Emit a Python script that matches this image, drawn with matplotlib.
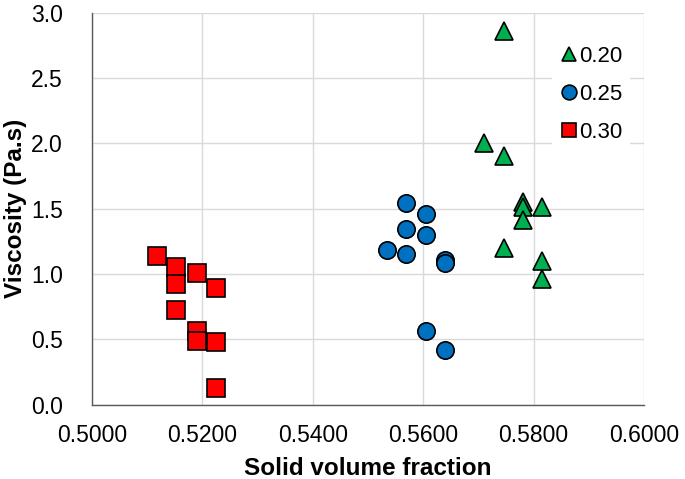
import matplotlib.pyplot as plt
import numpy as np

plt.rcParams['font.family'] = ['Liberation Sans', 'DejaVu Sans']

# volume fraction / viscosity readings per series
x_020 = [0.5746, 0.5710, 0.5746, 0.5781, 0.5781, 0.5815, 0.5781, 0.5746, 0.5815, 0.5815]
y_020 = [2.86, 2.00, 1.90, 1.55, 1.51, 1.51, 1.41, 1.20, 1.10, 0.96]

x_025 = [0.5568, 0.5605, 0.5568, 0.5605, 0.5534, 0.5568, 0.5640, 0.5640, 0.5605, 0.5640]
y_025 = [1.54, 1.46, 1.34, 1.30, 1.18, 1.15, 1.11, 1.08, 0.56, 0.42]

x_030 = [0.5117, 0.5153, 0.5153, 0.5190, 0.5225, 0.5153, 0.5190, 0.5190, 0.5225, 0.5225]
y_030 = [1.14, 1.05, 0.92, 1.01, 0.89, 0.72, 0.56, 0.49, 0.48, 0.13]

labels = ["0.20", "0.25", "0.30"]

fig = plt.figure(figsize=(6.85, 4.79), dpi=100)
ax = fig.add_axes([92 / 685, 1 - 404.5 / 479, 552 / 685, 391.8 / 479])

ms = 12.5
ax.plot(x_020, y_020, ls="none", marker="^", ms=ms, mfc="#00B050", mec="black", mew=1.2,
        label=labels[0], zorder=3)
ax.plot(x_025, y_025, ls="none", marker="o", ms=ms, mfc="#0070C0", mec="black", mew=1.2,
        label=labels[1], zorder=3)
ax.plot(x_030, y_030, ls="none", marker="s", ms=ms, mfc="#FF0000", mec="black", mew=1.2,
        label=labels[2], zorder=3)

ax.set_xlim(0.5, 0.6)
ax.set_ylim(0, 3.0)
ax.set_xticks(np.arange(0.50, 0.6001, 0.02))
ax.set_yticks(np.arange(0, 3.01, 0.5))
ax.xaxis.set_major_formatter(plt.FormatStrFormatter("%.4f"))
ax.yaxis.set_major_formatter(plt.FormatStrFormatter("%.1f"))
ax.tick_params(length=0, labelsize=16.5, colors="#000000")
ax.tick_params(axis="y", pad=21)
ax.tick_params(axis="x", pad=14)

ax.grid(True, color="#D9D9D9", lw=1.0, zorder=0)
ax.set_axisbelow(True)
for s in ["top", "right"]:
    ax.spines[s].set_visible(False)
for s in ["left", "bottom"]:
    ax.spines[s].set_color("#595959")
    ax.spines[s].set_linewidth(1.0)

ax.set_xlabel("Solid volume fraction", fontsize=17.5, fontweight="bold", labelpad=7)
ax.set_ylabel("Viscosity (Pa.s)", fontsize=17.5, fontweight="bold", labelpad=3)

leg = ax.legend(loc="upper right", bbox_to_anchor=(0.9746, 0.9354), frameon=True,
                fontsize=16, handletextpad=0.05, handlelength=0.8, labelspacing=0.76,
                borderpad=0.35, borderaxespad=0, markerscale=0.85)
leg.get_frame().set_edgecolor("none")
leg.get_frame().set_facecolor("white")
leg.get_frame().set_alpha(1.0)
leg.get_frame().set_boxstyle("square", pad=0)

fig.savefig("out.png", dpi=100)
